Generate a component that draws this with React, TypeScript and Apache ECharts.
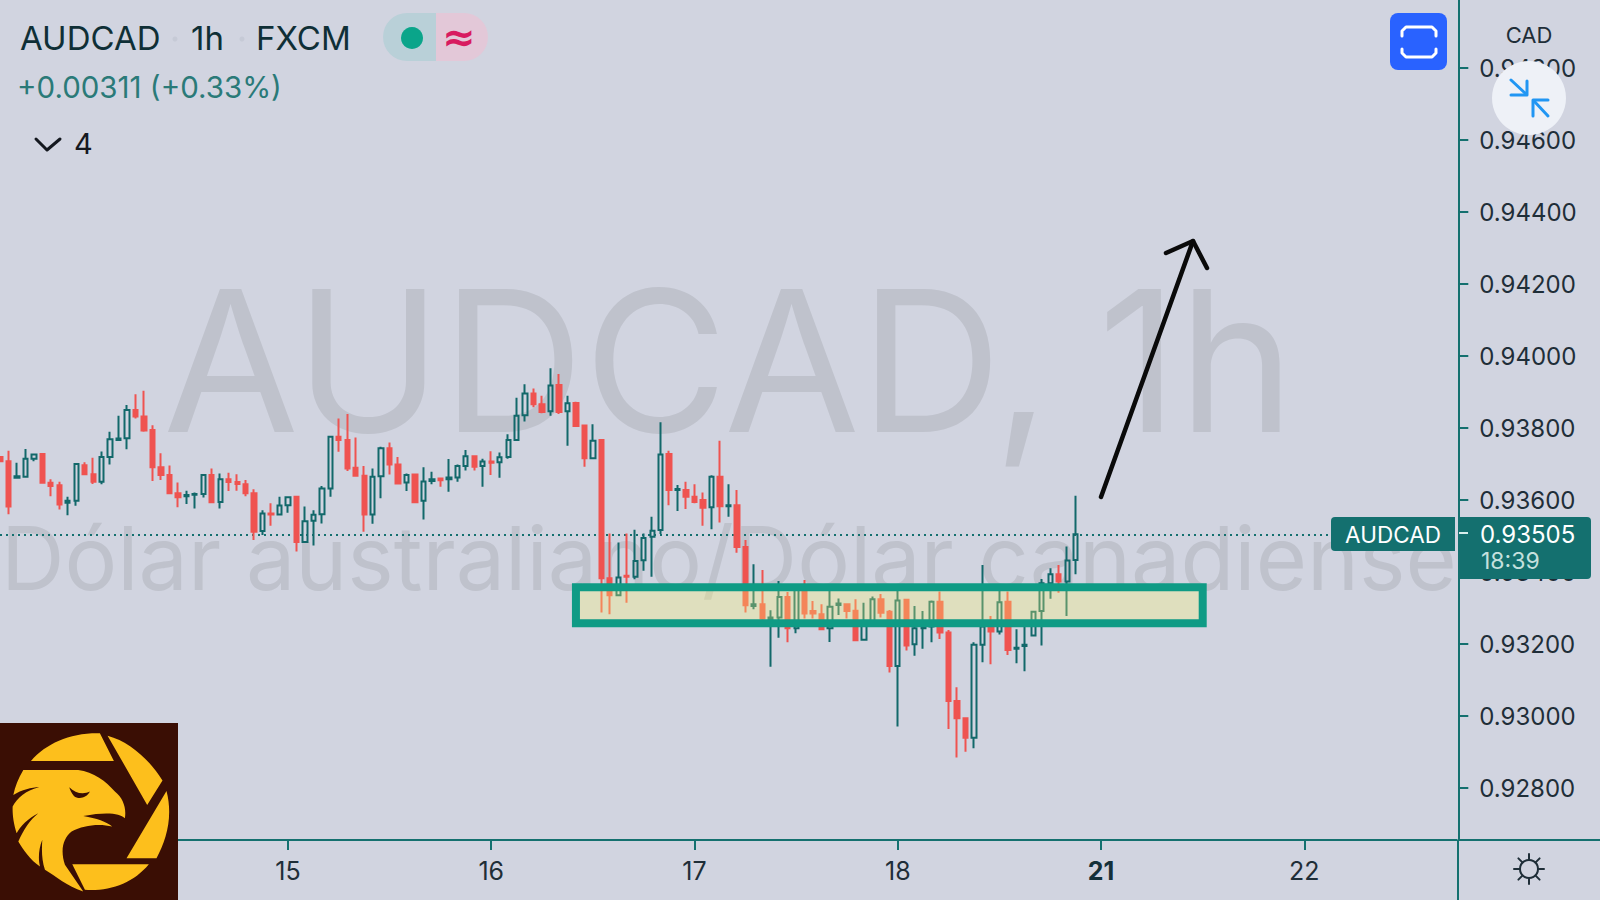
import React, { useEffect, useRef } from 'react';
import * as echarts from 'echarts';

// prices are kept in points (1 point = 0.00001)
const opens = [
  93720, 93708, 93662, 93665, 93715, 93728, 93648, 93641, 93593, 93598, 93697, 93672, 93651, 93720, 93767, 93772, 93850,
  93832, 93795, 93691, 93670, 93619, 93611, 93615, 93617, 93670, 93595, 93658, 93650, 93644, 93619, 93514, 93563, 93560,
  93586, 93609, 93484, 93543, 93561, 93632, 93776, 93767, 93690, 93668, 93560, 93666, 93744, 93699, 93649, 93671, 93598,
  93653, 93660, 93658, 93663, 93695, 93722, 93695, 93707, 93705, 93720, 93767, 93836, 93896, 93866, 93847, 93920, 93847,
  93870, 93807, 93716, 93767, 93383, 93336, 93390, 93387, 93433, 93498, 93517, 93728, 93628, 93628, 93609, 93600, 93580,
  93665, 93583, 93586, 93470, 93306, 93311, 93269, 93274, 93331, 93244, 93348, 93292, 93283, 93244, 93309, 93311, 93293,
  93212, 93262, 93325, 93290, 93139, 93323, 93200, 93244, 93249, 93318, 93232, 93042, 92994, 92940, 93198, 93249, 93235,
  93318, 93187, 93195, 93224, 93292, 93369, 93394, 93374, 93434,
];
const closes = [
  93708, 93582, 93666, 93715, 93727, 93648, 93639, 93588, 93598, 93700, 93672, 93651, 93720, 93769, 93771, 93850, 93832,
  93793, 93691, 93670, 93619, 93608, 93614, 93617, 93670, 93594, 93658, 93650, 93645, 93619, 93512, 93563, 93560, 93585,
  93608, 93484, 93541, 93559, 93632, 93776, 93767, 93688, 93668, 93560, 93665, 93744, 93699, 93646, 93670, 93594, 93652,
  93658, 93655, 93663, 93695, 93722, 93693, 93707, 93704, 93719, 93767, 93834, 93896, 93866, 93845, 93918, 93845, 93869,
  93806, 93716, 93765, 93383, 93336, 93385, 93387, 93431, 93495, 93515, 93727, 93628, 93631, 93609, 93595, 93579, 93665,
  93583, 93586, 93470, 93308, 93311, 93271, 93274, 93331, 93244, 93359, 93285, 93285, 93241, 93304, 93313, 93292, 93211,
  93258, 93325, 93287, 93139, 93321, 93196, 93244, 93249, 93318, 93232, 93042, 92994, 92940, 93198, 93249, 93235, 93316,
  93184, 93190, 93198, 93290, 93369, 93394, 93374, 93432, 93505,
];
const lows = [
  93707, 93561, 93660, 93663, 93708, 93646, 93611, 93574, 93558, 93584, 93670, 93645, 93644, 93699, 93765, 93741, 93827,
  93790, 93653, 93656, 93617, 93580, 93589, 93577, 93607, 93592, 93577, 93625, 93626, 93611, 93489, 93503, 93529, 93558,
  93565, 93457, 93482, 93474, 93535, 93609, 93734, 93681, 93666, 93512, 93534, 93605, 93671, 93644, 93625, 93591, 93546,
  93644, 93637, 93623, 93651, 93682, 93682, 93637, 93670, 93662, 93715, 93764, 93818, 93858, 93841, 93834, 93839, 93751,
  93804, 93693, 93716, 93288, 93283, 93336, 93315, 93380, 93404, 93387, 93506, 93586, 93570, 93575, 93591, 93529, 93519,
  93538, 93554, 93454, 93288, 93297, 93267, 93137, 93218, 93205, 93230, 93271, 93271, 93239, 93206, 93281, 93271, 93209,
  93212, 93258, 93274, 93121, 92971, 93182, 93168, 93187, 93205, 93214, 92964, 92885, 92901, 92911, 93150, 93144, 93227,
  93170, 93147, 93125, 93223, 93196, 93326, 93343, 93278, 93394,
];
const highs = [
  93720, 93737, 93704, 93742, 93727, 93730, 93658, 93651, 93609, 93702, 93705, 93718, 93735, 93790, 93834, 93864, 93894,
  93904, 93808, 93730, 93696, 93649, 93626, 93621, 93670, 93688, 93674, 93676, 93672, 93656, 93630, 93572, 93591, 93609,
  93609, 93609, 93582, 93572, 93639, 93778, 93827, 93839, 93774, 93695, 93688, 93748, 93760, 93720, 93674, 93674, 93691,
  93679, 93661, 93714, 93699, 93739, 93723, 93715, 93736, 93732, 93783, 93884, 93922, 93910, 93890, 93966, 93950, 93890,
  93873, 93808, 93811, 93767, 93507, 93482, 93507, 93518, 93507, 93554, 93816, 93737, 93642, 93651, 93644, 93621, 93669,
  93765, 93644, 93628, 93489, 93422, 93406, 93294, 93375, 93345, 93359, 93378, 93320, 93311, 93350, 93327, 93313, 93325,
  93315, 93332, 93339, 93295, 93350, 93323, 93306, 93292, 93321, 93346, 93239, 93080, 92997, 93205, 93420, 93278, 93350,
  93346, 93241, 93249, 93290, 93381, 93411, 93420, 93471, 93612,
];

const slotCount = 173; // candles plus the empty space up to the price scale
const dayLabels: Record<number, string> = { 34: '15', 58: '16', 82: '17', 106: '18', 130: '21', 154: '22' };
const priceTicks = [0.928, 0.93, 0.932, 0.934, 0.936, 0.938, 0.94, 0.942, 0.944, 0.946, 0.948];
const lastPrice = 0.93505;
const zoneTop = 0.93358;
const zoneBottom = 0.93258;
const zoneFrom = 68;
const zoneTo = 142;

const FONT = 'Inter, Roboto, sans-serif';
const BG = '#d1d4e0';
const TEAL = '#14706f';
const CANDLE_TEAL = '#12686a';
const RED = '#ef5350';
const INK = '#1f2e38';

const eagle =
  'M70 180 L235 180 C280 185 320 215 345 245 C370 265 380 295 375 325 C360 310 320 305 250 318 C290 325 320 335 337 350 ' +
  'C300 340 250 345 215 365 C190 385 180 420 195 465 L250 545 C200 530 170 500 135 480 C125 450 125 420 127 390 ' +
  'C115 420 115 450 120 470 C90 450 70 420 55 395 C70 360 90 330 115 310 C85 325 60 350 50 370 C40 340 37 310 38 290 ' +
  'C50 265 80 240 118 232 C95 232 65 240 40 255 C45 230 55 205 70 180 Z ' +
  'M93 153 C140 100 210 68 300 70 L342 153 Z M323 77 C390 95 450 150 488 212 L442 285 Z ' +
  'M500 243 C520 320 500 390 470 445 L380 445 Z M217 463 L447 463 C400 520 330 545 255 540 Z';
const eagleEye = 'M208 232 C225 250 250 255 270 245 C260 265 235 270 222 258 C215 250 210 240 208 232 Z';

echarts.graphic.registerShape('eagle', (echarts.graphic as any).extendPath(eagle, {}));
echarts.graphic.registerShape('eagleEye', (echarts.graphic as any).extendPath(eagleEye, {}));

const label = (text: string, x: number, y: number, fontSize: number, fill: string, extra: any = {}) => ({
  type: 'text',
  z: 100,
  x,
  y,
  style: { text, fontSize, fill, fontFamily: FONT, verticalAlign: 'middle', ...extra },
});

const watermark = (text: string, x: number, y: number, fontSize: number) => ({
  type: 'text',
  z: 0,
  x,
  y,
  style: { text, fontSize, fill: '#bfc2cc', fontFamily: FONT, verticalAlign: 'middle' },
});

const stroke = (points: number[][], color: string, lineWidth: number) => ({
  type: 'polyline',
  z: 100,
  shape: { points },
  style: { stroke: color, lineWidth, fill: 'none', lineJoin: 'round', lineCap: 'round' },
});

const gearSpokes = [0, 45, 90, 135, 180, 225, 270, 315].map((deg) => {
  const a = (deg * Math.PI) / 180;
  return stroke(
    [
      [1529 + 9 * Math.cos(a), 869 + 9 * Math.sin(a)],
      [1529 + 15 * Math.cos(a), 869 + 15 * Math.sin(a)],
    ],
    INK,
    2
  );
});

const App: React.FC = () => {
  const chartRef = useRef<HTMLDivElement>(null);

  useEffect(() => {
    if (!chartRef.current) return;
    const chart = echarts.init(chartRef.current, undefined, { renderer: 'svg' });

    const candles = opens.map((o, i) => [o, closes[i], lows[i], highs[i]].map((p) => p / 100000));
    const slots = Array.from({ length: slotCount }, (_, i) => String(i));

    const option: any = {
      animation: false,
      backgroundColor: BG,
      grid: { left: 0, top: 0, width: 1456.8, height: 840, containLabel: false },
      xAxis: {
        type: 'category',
        data: slots,
        boundaryGap: false,
        axisLine: { lineStyle: { color: TEAL, width: 2 } },
        axisTick: { length: 10, interval: (i: number) => dayLabels[i] !== undefined, lineStyle: { color: TEAL, width: 2 } },
        axisLabel: {
          interval: (i: number) => dayLabels[i] !== undefined,
          formatter: (_: string, i: number) => (dayLabels[i] === '21' ? `{b|${dayLabels[i]}}` : dayLabels[i] ?? ''),
          fontFamily: FONT,
          fontSize: 25,
          color: INK,
          margin: 18,
          rich: { b: { fontFamily: FONT, fontSize: 25, fontWeight: 700, color: '#14303a' } },
        },
        splitLine: { show: false },
      },
      yAxis: {
        type: 'value',
        position: 'right',
        offset: 1.5,
        min: 0.92656,
        max: 0.94989,
        axisLine: { show: true, lineStyle: { color: TEAL, width: 2 } },
        axisTick: { show: true, length: 10, customValues: priceTicks, lineStyle: { color: TEAL, width: 2 } },
        axisLabel: {
          customValues: priceTicks,
          formatter: (v: number) => v.toFixed(5),
          fontFamily: FONT,
          fontSize: 24,
          color: INK,
          margin: 21,
        },
        splitLine: { show: false },
      },
      series: [
        {
          type: 'candlestick',
          data: candles,
          barWidth: 4.8,
          z: 5,
          itemStyle: {
            color: 'transparent',
            color0: RED,
            borderColor: CANDLE_TEAL,
            borderColor0: RED,
            borderWidth: 2,
          },
          markLine: {
            silent: true,
            symbol: 'none',
            precision: 5,
            label: { show: false },
            lineStyle: { color: TEAL, type: [2, 4], width: 2 },
            data: [{ yAxis: lastPrice }],
          },
          markArea: {
            silent: true,
            precision: 5,
            z: 6,
            itemStyle: {
              color: 'rgba(255,249,111,0.3)',
              borderColor: '#0f9b85',
              borderWidth: 8,
            },
            data: [
              [
                { xAxis: String(zoneFrom), yAxis: zoneTop },
                { xAxis: String(zoneTo), yAxis: zoneBottom },
              ],
            ],
          },
        },
      ],
      graphic: {
        elements: [
          // watermark under the candles
          watermark('AUDCAD,', 163, 360, 197),
          watermark('1h', 1098, 360, 197),
          watermark('Dólar australiano/Dólar canadiense', 1, 558, 88),

          // hand drawn arrow
          stroke([[1101, 497], [1193, 241]], '#0a0a0a', 4.5),
          stroke([[1166, 253], [1193, 241], [1207, 268]], '#0a0a0a', 4.5),

          // axis lines run on to the window edge
          { type: 'line', z: 1, shape: { x1: 1458, y1: 840, x2: 1600, y2: 840 }, style: { stroke: TEAL, lineWidth: 2 } },
          { type: 'line', z: 1, shape: { x1: 1458, y1: 840, x2: 1458, y2: 900 }, style: { stroke: TEAL, lineWidth: 2 } },

          // header
          label('AUDCAD', 20, 38, 33, '#0f2f36'),
          label('1h', 191, 38, 33, '#0f2f36'),
          label('FXCM', 256, 38, 33, '#0f2f36'),
          { type: 'circle', z: 100, shape: { cx: 175, cy: 39, r: 2.5 }, style: { fill: '#c6cad6' } },
          { type: 'circle', z: 100, shape: { cx: 242, cy: 39, r: 2.5 }, style: { fill: '#c6cad6' } },
          { type: 'rect', z: 100, shape: { x: 383, y: 13, width: 53, height: 48, r: [24, 0, 0, 24] }, style: { fill: '#b9d0d8' } },
          { type: 'rect', z: 100, shape: { x: 436, y: 13, width: 52, height: 48, r: [0, 24, 24, 0] }, style: { fill: '#e3c8d8' } },
          { type: 'circle', z: 101, shape: { cx: 412, cy: 38, r: 11 }, style: { fill: '#0aa58a' } },
          label('≈', 459, 37, 40, '#d81b60', { align: 'center', fontWeight: 700, fontFamily: 'DejaVu Sans' }),
          label('+0.00311 (+0.33%)', 17, 87, 29.5, '#2a7a78'),
          stroke([[36, 139], [47, 150], [60, 139]], '#14181f', 3),
          label('4', 74, 143, 29, '#14181f'),

          // fullscreen button
          { type: 'rect', z: 100, shape: { x: 1390, y: 13, width: 57, height: 57, r: 8 }, style: { fill: '#2962ff' } },
          stroke([[1402, 36], [1402, 31], [1406, 27], [1432, 27], [1436, 31], [1436, 36]], '#ffffff', 3),
          stroke([[1402, 49], [1402, 53], [1406, 57], [1432, 57], [1436, 53], [1436, 49]], '#ffffff', 3),

          // price scale header and shrink button
          label('CAD', 1529, 35, 22, INK, { align: 'center' }),
          { type: 'circle', z: 100, shape: { cx: 1529, cy: 98, r: 37 }, style: { fill: '#eef1f7' } },
          stroke([[1511, 80], [1526, 94]], '#2196f3', 3),
          stroke([[1527, 81], [1527, 95], [1511, 95]], '#2196f3', 3),
          stroke([[1548, 116], [1534, 101]], '#2196f3', 3),
          stroke([[1533, 116], [1533, 100], [1548, 100]], '#2196f3', 3),

          // last price tags
          { type: 'rect', z: 100, shape: { x: 1331, y: 517, width: 124, height: 34, r: [4, 0, 0, 4] }, style: { fill: TEAL } },
          label('AUDCAD', 1393, 534, 22.5, '#ffffff', { align: 'center' }),
          { type: 'rect', z: 100, shape: { x: 1459, y: 517, width: 132, height: 62, r: [0, 4, 4, 0] }, style: { fill: TEAL } },
          { type: 'line', z: 101, shape: { x1: 1459, y1: 533, x2: 1468, y2: 533 }, style: { stroke: '#d8eeec', lineWidth: 2 } },
          label('0.93505', 1480, 534, 24, '#ffffff'),
          label('18:39', 1481, 561, 23, '#c5e0de'),

          // settings gear
          { type: 'circle', z: 100, shape: { cx: 1529, cy: 869, r: 9 }, style: { fill: 'none', stroke: INK, lineWidth: 2 } },
          ...gearSpokes,

          // logo
          { type: 'rect', z: 110, shape: { x: 0, y: 723, width: 178, height: 177 }, style: { fill: '#3a0e04' } },
          { type: 'eagle', z: 111, x: 0, y: 710, scaleX: 1 / 3, scaleY: 1 / 3, style: { fill: '#fdbf1c' } },
          { type: 'eagleEye', z: 112, x: 0, y: 710, scaleX: 1 / 3, scaleY: 1 / 3, style: { fill: '#3a0e04' } },
        ],
      },
    };

    chart.setOption(option);

    return () => {
      chart.dispose();
    };
  }, []);

  return <div ref={chartRef} style={{ position: 'fixed', left: 0, top: 0, width: 1600, height: 900 }} />;
};

export default App;
